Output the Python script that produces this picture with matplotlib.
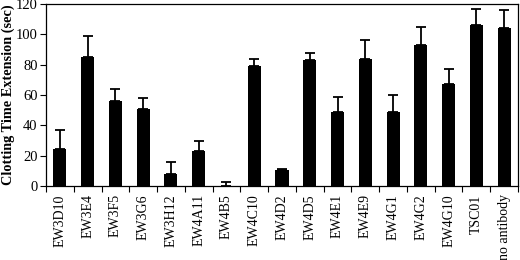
import matplotlib
matplotlib.use("Agg")
import matplotlib.pyplot as plt
import numpy as np
from matplotlib.ticker import FixedLocator

categories = ["EW3D10", "EW3E4", "EW3F5", "EW3G6", "EW3H12", "EW4A11", "EW4B5",
              "EW4C10", "EW4D2", "EW4D5", "EW4E1", "EW4E9", "EW4G1", "EW4G2",
              "EW4G10", "TSC01", "no antibody"]
values = [24.5, 85, 56, 51, 8, 23, 0, 79, 10.5, 83, 48.5, 84, 49, 93, 67, 106, 104.5]
errors = [12.5, 14, 8, 7, 8, 6.5, 2.5, 5, 1, 5, 10.5, 12, 11, 12, 10, 11, 11.5]
yticks = [0, 20, 40, 60, 80, 100, 120]

plt.rcParams['font.family'] = ['Liberation Serif', 'DejaVu Serif']

fig = plt.figure(figsize=(5.2, 2.6), dpi=100)
ax = fig.add_axes([46/520, 74/260, (518-46)/520, (186-4)/260])
x = np.arange(len(categories))
ax.bar(x, values, width=0.47, color='black', zorder=2)
ax.errorbar(x, values, yerr=[np.zeros(len(errors)), errors], fmt='none',
            ecolor='black', elinewidth=1.3, capsize=3.5, capthick=1.3, zorder=1)
ax.set_xlim(-0.5, len(categories) - 0.5)
ax.set_ylim(0, 120)
ax.set_yticks(yticks)
ax.set_xticks(x)
ax.set_xticklabels(categories, rotation=90, fontsize=10)
ax.tick_params(axis='x', which='major', length=0, pad=6)
ax.xaxis.set_minor_locator(FixedLocator(np.arange(-0.5, len(categories), 1.0)))
ax.tick_params(axis='x', which='minor', length=4, direction='out', width=0.8)
ax.tick_params(axis='y', length=4, direction='out', width=0.8, labelsize=10.5, pad=2)
fig.text(2/520, 1 - 95/260, "Clotting Time Extension (sec)", rotation=90,
         fontsize=10.3, fontweight='bold', ha='left', va='center')
for s in ax.spines.values():
    s.set_linewidth(0.9)
fig.savefig("out.png", dpi=100)
